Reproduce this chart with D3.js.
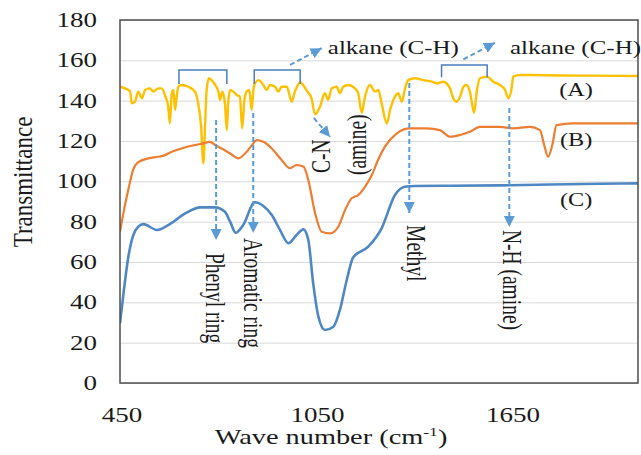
<!DOCTYPE html>
<html>
<head>
<meta charset="utf-8">
<script src="https://cdn.jsdelivr.net/npm/d3@7"></script>
<style>
body { margin: 0; background: #fff; }
#chart { width: 641px; height: 455px; }
text { font-family: "Liberation Serif", "Times New Roman", serif; fill: #1a1a1a; }
</style>
</head>
<body>
<div id="chart"></div>
<script>
// FTIR spectra: wave number (cm-1) and transmittance
var waveA = [450,465,481,486,496,506,517,527,542,552,568,578,588,598,603,609,614,619,624,629,
  639,660,680,690,699,706,711,716,723,731,742,752,757,764,772,778,782,788,798,808,
  818,825,832,839,847,854,859,864,875,890,900,910,926,936,946,962,977,987,1003,1023,
  1038,1049,1064,1079,1089,1100,1115,1125,1135,1151,1171,1181,1192,1202,1217,1233,1243,1253,1269,1279,
  1294,1304,1315,1325,1335,1355,1381,1407,1422,1442,1463,1473,1483,1494,1504,1514,1524,1537,1545,1555,
  1576,1596,1616,1632,1642,1652,1657,1678,1708,1800,1900,2040];
var transA = [146.9,146.1,144.5,138.7,139.5,144.5,141.2,145.3,146.1,144.5,146.1,146.1,142.8,137,128.7,143.7,145.3,135.4,142,146.9,
  147.8,146.9,144.5,138.7,127.1,108.9,127.1,145.3,151.1,150.2,147.8,144.5,140.4,144.5,138.7,125.4,138.7,145.3,144.5,142.8,
  142,126.3,140.4,144.5,145.3,135.4,144.5,148.6,150.2,147.8,145.3,147.8,146.9,144.5,146.9,146.9,139.5,144.5,149,145,
  141,133.2,137,143.7,140.4,146.1,146.9,143.7,146.9,147.8,146.1,143.7,134,142,147.8,144.5,145.3,138.7,128.7,135.4,
  142,143.7,139.5,146.1,150.2,151.1,150.2,149.4,148.6,149.4,146.1,141.2,139.5,142,146.9,147.8,144.5,134,144.5,151.1,
  151.9,149.4,147.8,145.3,141.2,146.1,151.9,152.7,152.7,152.5,152.4,152.2];

var waveB = [450,465,477,490,506,537,568,588,609,639,680,706,726,742,762,788,813,839,859,870,
  890,916,946,972,992,1013,1028,1049,1069,1095,1120,1141,1161,1181,1202,1223,1242,1263,1299,1340,
  1391,1432,1463,1494,1524,1555,1616,1657,1708,1739,1752,1764,1777,1790,1840,2040];
var transB = [75,88,97,105.6,109.5,111.4,112.2,113,114.7,116.3,118,118.8,119.6,118,116.3,113.8,111.4,114.7,118.8,120.5,
  119.6,116.3,110.6,106.5,108.1,107.3,100.7,84.1,75,74.2,77.5,85.8,91.6,93.2,97.3,103.1,110.6,117.2,123.7,126.3,
  126.3,125.4,122.1,123,124.6,127,127,126.3,127,125.4,118,112.2,118,127.9,128.7,128.7];

var waveC = [450,459,475,490,506,522,563,598,650,696,742,772,788,805,828,864,890,916,941,967,
  992,1013,1028,1043,1059,1079,1105,1125,1146,1166,1212,1253,1294,1324,1355,1463,1616,1770,1923,2040];
var transC = [29.6,42,62,73,77.5,78.8,75.9,78.3,84.1,87.1,87.1,84.9,80,74.5,78.3,89.6,87.8,83.3,75.9,69.3,
  73.4,76.2,70.9,49.4,32.9,26.3,27.9,36.2,51.1,62.3,67.6,76.7,93.2,97.3,97.7,97.8,98,98.4,98.8,99];

var seriesNames = ["(A)", "(B)", "(C)"];
var seriesLabelAt = [[1850, 142.3], [1850, 117.5], [1850, 87.8]];
var xTicks = [450, 1050, 1650];
var yTicks = [0, 20, 40, 60, 80, 100, 120, 140, 160, 180];

// peak assignments, in data units
var brackets = [[631, 778, 155.2, 148.3], [862, 1003, 155.2, 148.3], [1437, 1577, 157.7, 151.6]];
var arrows = [[745, 130.4, 745, 70.9], [859, 133.9, 859, 74.4], [1338, 148.8, 1338, 84.3],
  [1645, 136.4, 1645, 77.4], [1045, 131.4, 1095, 122], [972, 157.7, 1069, 166], [1504, 160.5, 1601, 168.7]];
var notes = [
  ["Phenyl ring", 714, 64.5, 90], ["Aromatic ring", 831, 71.9, 90], ["Methyl", 1331, 78.3, 90],
  ["N-H (amine)", 1626, 75.9, 90], ["C-N", 1095, 104.1, -90], ["(amine)", 1205, 103.1, -90],
  ["alkane (C-H)", 1088, 163.1, 0], ["alkane (C-H)", 1647, 163.1, 0]
];

var width = 641, height = 455;
var margin = {top: 20, left: 120, right: 3, bottom: 72};
var k = 1.35; // the source figure is stretched sideways

var svg = d3.select("#chart").append("svg")
  .attr("width", width)
  .attr("height", height);

var xScale = d3.scaleLinear().domain([450, 2040]).range([margin.left, width - margin.right]);
var yScale = d3.scaleLinear().domain([0, 180]).range([height - margin.bottom, margin.top]);

function place(sel, x, y, rot) {
  var s = rot ? "scale(1," + k + ")" : "scale(" + k + ",1)";
  sel.attr("transform", "translate(" + x + "," + y + ") rotate(" + rot + ") " + s);
}

svg.append("defs").append("clipPath").attr("id", "plot")
  .append("rect")
  .attr("x", margin.left).attr("y", margin.top)
  .attr("width", width - margin.left - margin.right)
  .attr("height", height - margin.top - margin.bottom);

var marker = svg.select("defs").append("marker")
  .attr("id", "head")
  .attr("markerUnits", "userSpaceOnUse")
  .attr("markerWidth", 12).attr("markerHeight", 12)
  .attr("refX", 11).attr("refY", 5.5)
  .attr("orient", "auto");
marker.append("path").attr("d", "M0,0L11,5.5L0,11Z").attr("fill", "#5b9bd5");

// gridlines
var grid = svg.append("g")
  .attr("transform", "translate(" + margin.left + ",0)")
  .call(d3.axisLeft(yScale).tickValues(yTicks).tickSize(-(width - margin.left - margin.right)).tickFormat(""));
grid.select(".domain").remove();
grid.selectAll("line").attr("stroke", "#d9d9d9");

// y tick labels
svg.append("g").selectAll("text")
  .data(yTicks)
  .join("text")
  .attr("text-anchor", "end")
  .attr("font-size", 20)
  .text(function(d) { return d; })
  .each(function(d) { place(d3.select(this), 97, yScale(d) + 7, 0); });

// x tick labels
svg.append("g").selectAll("text")
  .data(xTicks)
  .join("text")
  .attr("text-anchor", "middle")
  .attr("font-size", 20)
  .text(function(d) { return d; })
  .each(function(d) { place(d3.select(this), xScale(d) + 2, 422, 0); });

var xTitle = svg.append("text")
  .attr("text-anchor", "middle")
  .attr("font-size", 21);
xTitle.append("tspan").text("Wave number (cm");
xTitle.append("tspan").attr("font-size", 13).attr("dy", -8).text("-1");
xTitle.append("tspan").attr("dy", 8).text(")");
place(xTitle, 331, 444, 0);

var yTitle = svg.append("text")
  .attr("text-anchor", "middle")
  .attr("font-size", 23)
  .text("Transmittance");
yTitle.attr("transform", "translate(32,182) rotate(-90) scale(1,1.2)");

// spectra
var line = d3.line()
  .x(function(d) { return xScale(d[0]); })
  .y(function(d) { return yScale(d[1]); })
  .curve(d3.curveMonotoneX);

var series = [
  {wave: waveA, trans: transA, color: "#ffc000", w: 2.4},
  {wave: waveB, trans: transB, color: "#ed7d31", w: 2.2},
  {wave: waveC, trans: transC, color: "#4f87c2", w: 2.6}
];

var curves = svg.append("g").attr("clip-path", "url(#plot)");
series.forEach(function(s) {
  curves.append("path")
    .datum(d3.zip(s.wave, s.trans))
    .attr("d", line)
    .attr("fill", "none")
    .attr("stroke", s.color)
    .attr("stroke-width", s.w)
    .attr("stroke-linejoin", "round");
});

// plot border
svg.append("rect")
  .attr("x", margin.left).attr("y", margin.top)
  .attr("width", width - margin.left - margin.right)
  .attr("height", height - margin.top - margin.bottom)
  .attr("fill", "none")
  .attr("stroke", "#4d4d4d")
  .attr("stroke-width", 1.5);

// series labels
svg.append("g").selectAll("text")
  .data(seriesNames)
  .join("text")
  .attr("text-anchor", "middle")
  .attr("font-size", 18)
  .text(function(d) { return d; })
  .each(function(d, i) { place(d3.select(this), xScale(seriesLabelAt[i][0]), yScale(seriesLabelAt[i][1]), 0); });

// brackets
svg.append("g").selectAll("path")
  .data(brackets)
  .join("path")
  .attr("d", function(b) {
    return "M" + xScale(b[0]) + "," + yScale(b[3]) + "V" + yScale(b[2]) +
      "H" + xScale(b[1]) + "V" + yScale(b[3]);
  })
  .attr("fill", "none")
  .attr("stroke", "#4a7ebb")
  .attr("stroke-width", 1.5);

// dashed arrows
svg.append("g").selectAll("line")
  .data(arrows)
  .join("line")
  .attr("x1", function(a) { return xScale(a[0]); })
  .attr("y1", function(a) { return yScale(a[1]); })
  .attr("x2", function(a) { return xScale(a[2]); })
  .attr("y2", function(a) { return yScale(a[3]); })
  .attr("stroke", "#5b9bd5")
  .attr("stroke-width", 2)
  .attr("stroke-dasharray", "5,3")
  .attr("marker-end", "url(#head)");

// annotation text
svg.append("g").selectAll("text")
  .data(notes)
  .join("text")
  .attr("font-size", function(n) { return n[3] ? 19.5 : 18.5; })
  .text(function(n) { return n[0]; })
  .each(function(n) { place(d3.select(this), xScale(n[1]), yScale(n[2]), n[3]); });
</script>
</body>
</html>
